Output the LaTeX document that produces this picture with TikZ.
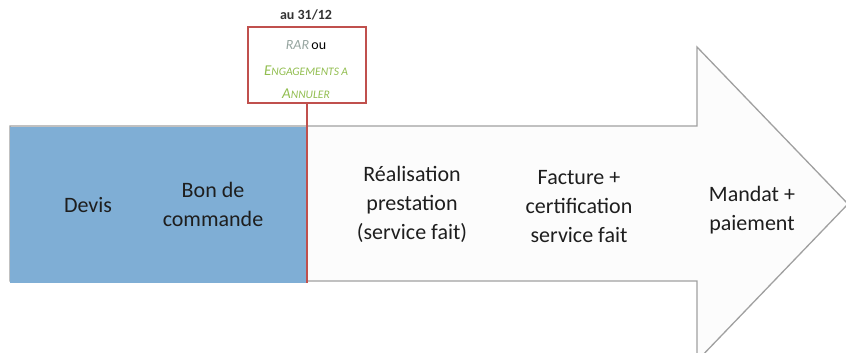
\documentclass[tikz,border=0pt]{standalone}
\usepackage{fontspec}
\setmainfont{Carlito}
\definecolor{bluefill}{RGB}{127,174,213}
\definecolor{redline}{RGB}{192,80,77}
\definecolor{greentext}{RGB}{146,190,80}
\definecolor{rartext}{RGB}{150,165,160}
\definecolor{arrowline}{RGB}{160,160,160}
\definecolor{arrowfill}{RGB}{252,252,252}
\definecolor{textdark}{RGB}{30,30,30}
\tikzset{
  steplabel/.style={align=center, text=textdark, font=\fontsize{22}{29}\selectfont, inner sep=0pt},
  redbox/.style={draw=redline, line width=2.2pt, fill=white, minimum width=118pt, minimum height=76pt, inner sep=0pt, align=center},
}
\newcommand{\scA}[2]{{\fontsize{15}{15}\selectfont #1}{\fontsize{11.5}{15}\selectfont #2}}
\begin{document}
\begin{tikzpicture}[x=1pt,y=-1pt]
\useasboundingbox (0,0) rectangle (846,353);
% big arrow
\draw[arrowline, fill=arrowfill, line width=1.3pt]
  (10,126) -- (697,126) -- (697,47) -- (848,204) -- (697,361) -- (697,281) -- (10,281) -- cycle;
% blue part
\node[fill=bluefill, minimum width=297pt, minimum height=156pt, inner sep=0pt, anchor=north west] (blue) at (10,127) {};
% step labels
\node[steplabel] (devis) at (88,205) {Devis};
\node[steplabel] (bon) at (213,204) {Bon de\\commande};
\node[steplabel] (real) at (412,204) {Réalisation\\prestation\\(service fait)};
\node[steplabel] (fact) at (579,207) {Facture +\\certification\\service fait};
\node[steplabel] (mand) at (752,210) {Mandat +\\paiement};
% red box
\node[redbox] (box) at (307,65) {};
\node[font=\itshape, text=rartext, anchor=base] (rar) at (306,49) {\fontsize{14}{14}\selectfont RAR\,\textcolor{black}{\upshape ou}};
\node[font=\itshape, text=greentext, anchor=base] (eng) at (306,75) {\scA{E}{NGAGEMENTS} \scA{}{A}};
\node[font=\itshape, text=greentext, anchor=base] (ann) at (306,98) {\scA{A}{NNULER}};
\node[font=\bfseries\fontsize{14}{14}\selectfont, text=black!80, anchor=base] (date) at (306,20) {au 31/12};
\coordinate (lineend) at (307,283);
\draw[redline, line width=2.2pt] (box.south) -- (lineend);
\end{tikzpicture}
\end{document}
